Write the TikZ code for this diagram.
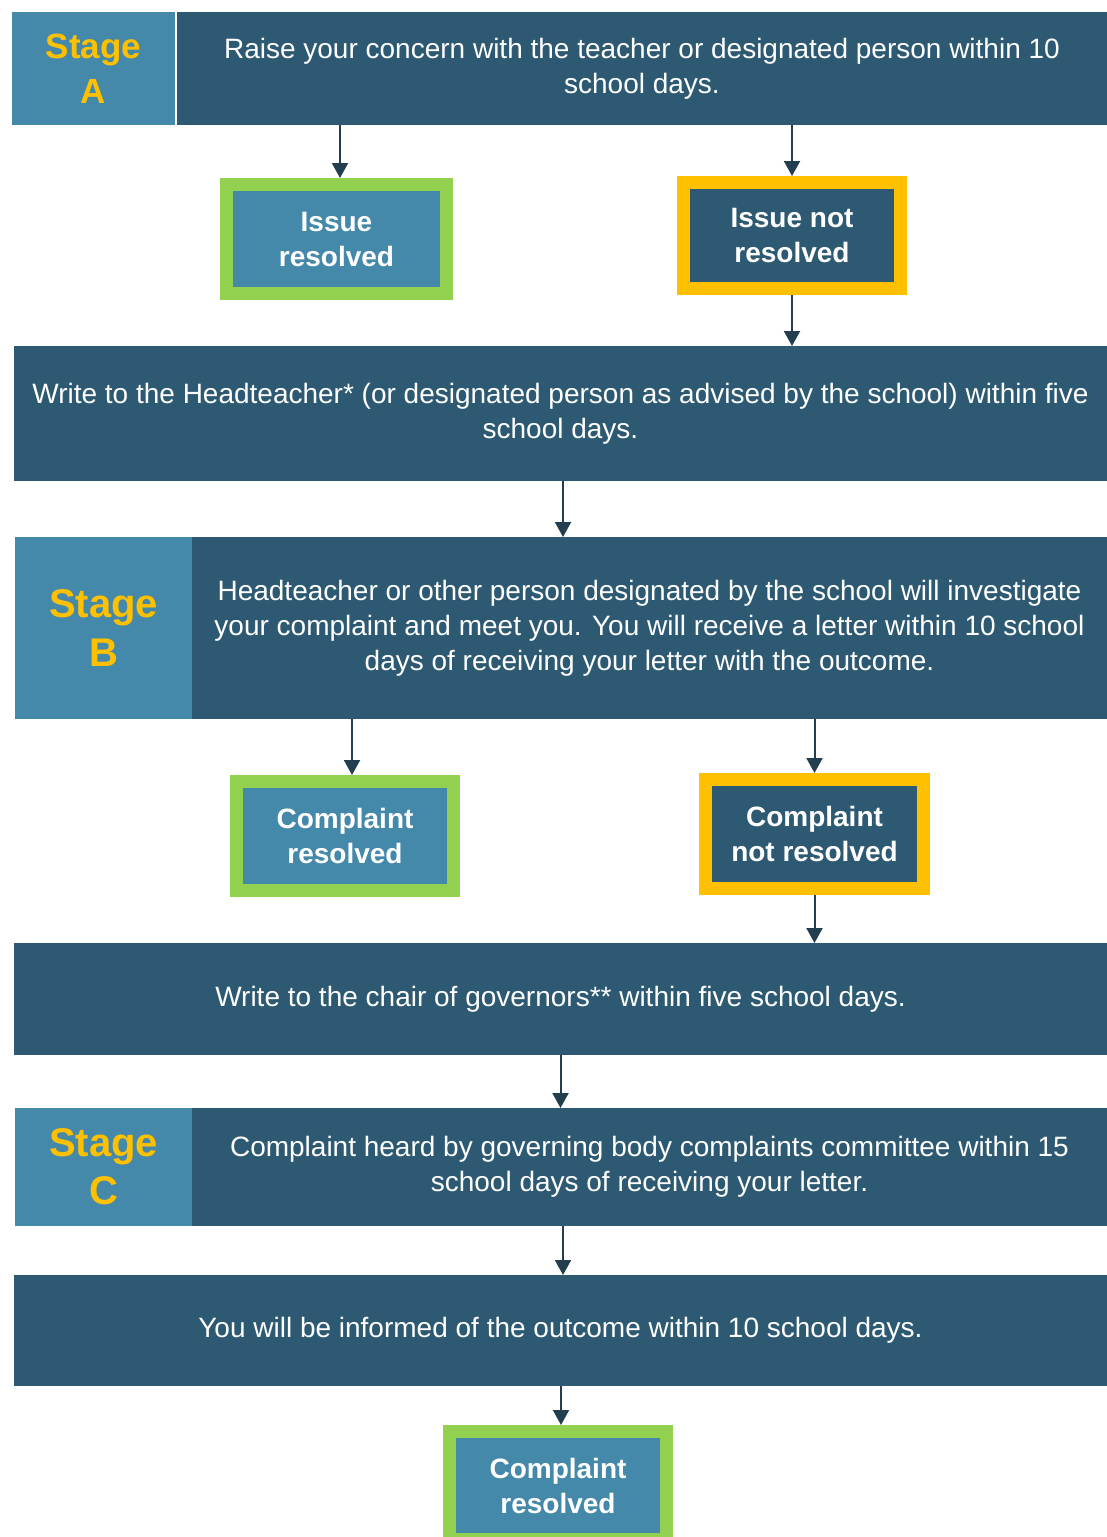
\documentclass[tikz,border=0pt]{standalone}
\usepackage{fontspec}
\setmainfont{Liberation Sans}
\usetikzlibrary{arrows.meta,calc}
\definecolor{darkc}{HTML}{2D5A72}
\definecolor{lightc}{HTML}{4589AA}
\definecolor{goldc}{HTML}{FFC000}
\definecolor{greenc}{HTML}{92D050}
\definecolor{arrowc}{HTML}{233F4F}
\begin{document}
\begin{tikzpicture}[x=1pt,y=-1pt,
  box/.style={inner sep=0pt, outer sep=0pt, align=center, text=white},
  mainbox/.style={box, fill=darkc, font=\fontsize{28}{35}\selectfont},
  stagebox/.style={box, fill=lightc, text=goldc, font=\bfseries\fontsize{36}{45}\selectfont},
  goodbox/.style={box, fill=lightc, draw=greenc, line width=13pt, outer sep=6.5pt, font=\bfseries\fontsize{28}{35}\selectfont},
  badbox/.style={box, fill=darkc, draw=goldc, line width=13pt, outer sep=6.5pt, font=\bfseries\fontsize{28}{35}\selectfont},
  flow/.style={draw=arrowc, line width=2pt, -{Triangle[width=16pt,length=15pt]}}
]
\useasboundingbox (0,0) rectangle (1107,1537);
% Stage A
\node[stagebox, font=\bfseries\fontsize{35}{45}\selectfont, minimum width=163pt, minimum height=113pt] (sa) at (93.5,68.5) {Stage\\A};
\node[mainbox, minimum width=930pt, minimum height=113pt] (ma) at (642,68.5) {Raise your concern with the teacher or designated person within 10\\school days.};
\node[goodbox, minimum width=220pt, minimum height=109pt] (ir) at (336.5,239) {Issue\\resolved};
\node[badbox, minimum width=217pt, minimum height=106pt] (inr) at (792,235.5) {Issue not\\resolved};
\node[mainbox, minimum width=1093pt, minimum height=135pt] (ht) at (560.5,413.5) {Write to the Headteacher* (or designated person as advised by the school) within five\\school days.};
% Stage B
\node[stagebox, font=\bfseries\fontsize{40}{49}\selectfont, minimum width=178pt, minimum height=182pt] (sb) at (103.5,628) {Stage\\B};
\node[mainbox, minimum width=915pt, minimum height=182pt] (mb) at (649.5,628) {Headteacher or other person designated by the school will investigate\\your complaint and meet you. You will receive a letter within 10 school\\days of receiving your letter with the outcome.};
\node[goodbox, minimum width=217pt, minimum height=109pt] (cr) at (345,836) {Complaint\\resolved};
\node[badbox, minimum width=218pt, minimum height=109pt] (cnr) at (814.5,834) {Complaint\\not resolved};
\node[mainbox, minimum width=1093pt, minimum height=112pt] (ch) at (560.5,999) {Write to the chair of governors** within five school days.};
% Stage C
\node[stagebox, font=\bfseries\fontsize{40}{48}\selectfont, minimum width=178pt, minimum height=118pt] (sc) at (103.5,1167) {Stage\\C};
\node[mainbox, minimum width=915pt, minimum height=118pt] (mc) at (649.5,1167) {Complaint heard by governing body complaints committee within 15\\school days of receiving your letter.};
\node[mainbox, minimum width=1093pt, minimum height=111pt] (oc) at (560.5,1330.5) {You will be informed of the outcome within 10 school days.};
\node[goodbox, minimum width=217pt, minimum height=108pt] (fr) at (558,1485.5) {Complaint\\resolved};
% connectors
\draw[flow] ($(ma.south -| ir.north)+(3.5,0)$) -- ($(ir.north)+(3.5,0)$);
\draw[flow] (inr.north |- ma.south) -- (inr.north);
\draw[flow] (inr.south) -- (inr.south |- ht.north);
\draw[flow] ($(ht.south)+(2.5,0)$) -- ($(ht.south |- mb.north)+(2.5,0)$);
\draw[flow] ($(cr.north |- mb.south)+(7,0)$) -- ($(cr.north)+(7,0)$);
\draw[flow] (cnr.north |- mb.south) -- (cnr.north);
\draw[flow] (cnr.south) -- (cnr.south |- ch.north);
\draw[flow] (ch.south) -- (ch.south |- mc.north);
\draw[flow] ($(mc.south -| oc.north)+(2.5,0)$) -- ($(oc.north)+(2.5,0)$);
\draw[flow] ($(oc.south -| fr.north)+(3,0)$) -- ($(fr.north)+(3,0)$);
\end{tikzpicture}
\end{document}
